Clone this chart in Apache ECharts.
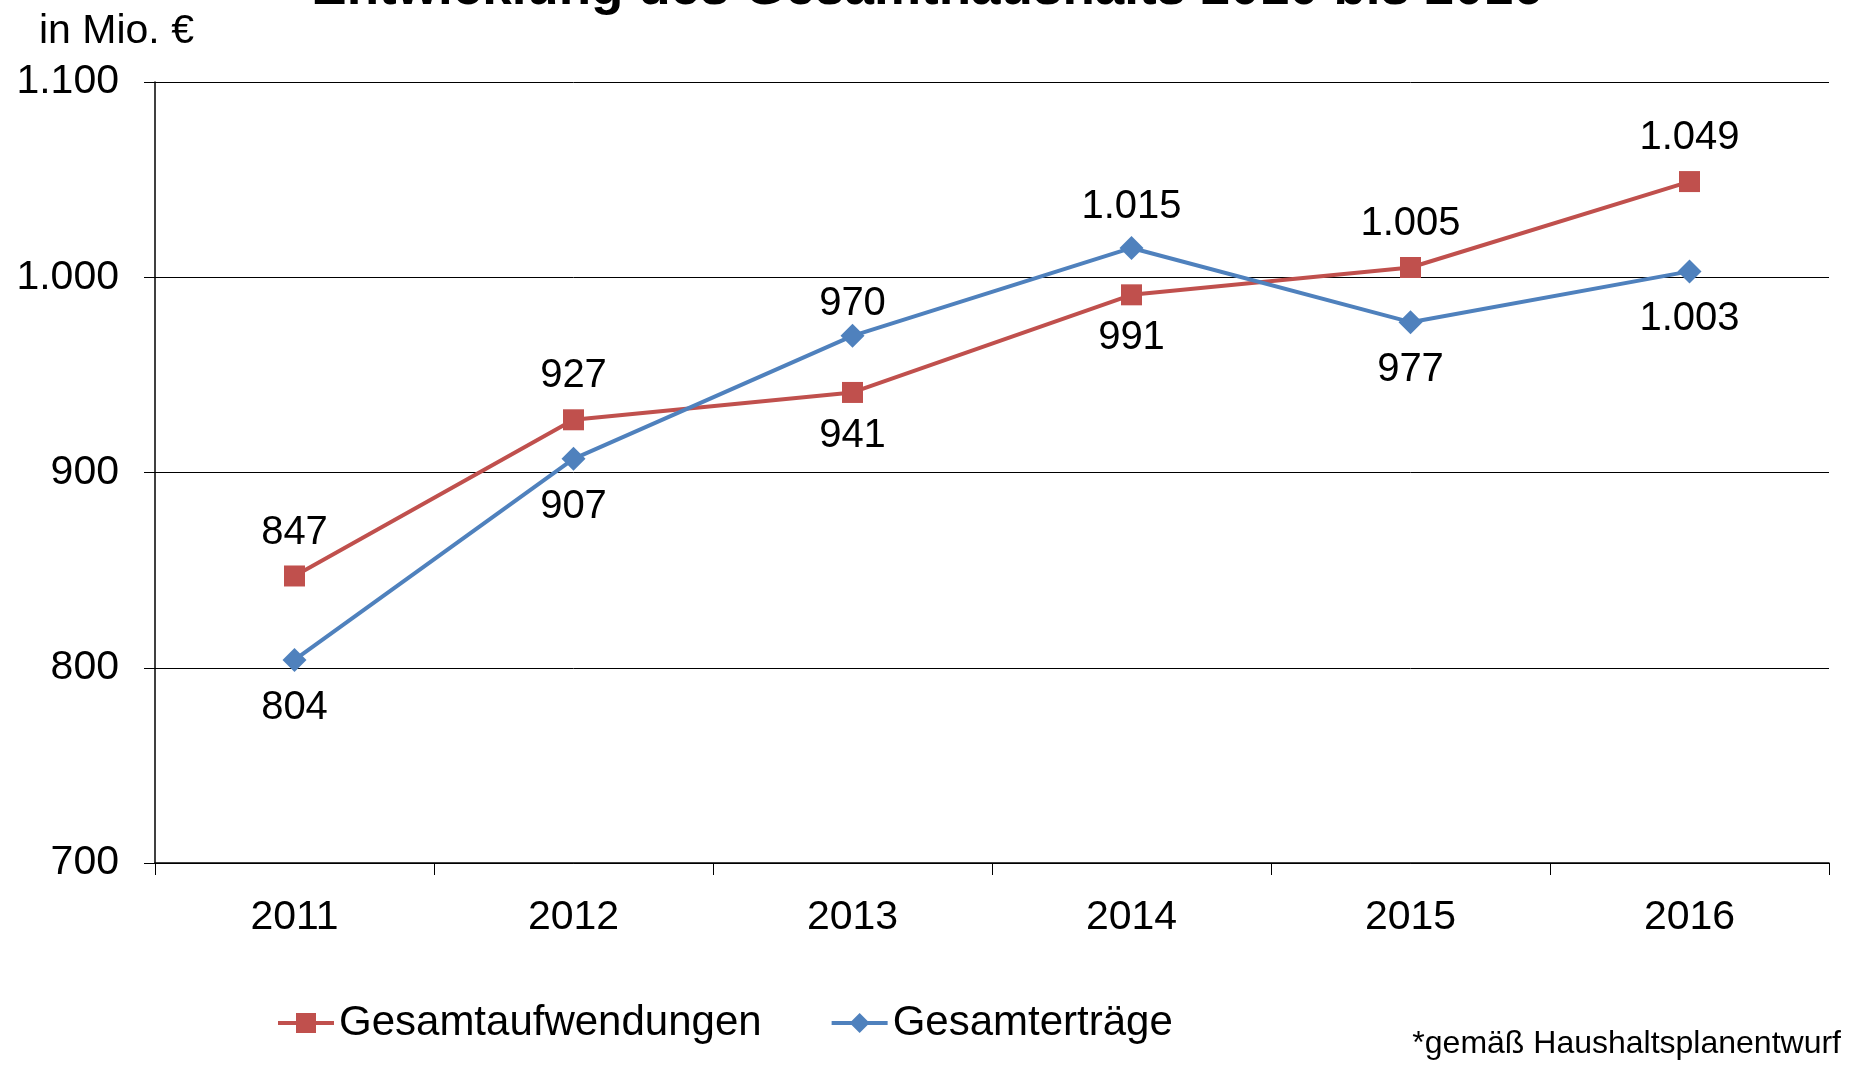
<!DOCTYPE html>
<html><head><meta charset="utf-8">
<script src="https://cdn.jsdelivr.net/npm/echarts@6/dist/echarts.min.js"></script>
<style>html,body{margin:0;padding:0;background:#fff}#c{width:1854px;height:1066px}</style>
</head><body><div id="c"></div>
<script>
const categories = ['2011','2012','2013','2014','2015','2016'];
const aufwendungen = [847, 927, 941, 991, 1005, 1049];
const ertraege = [804, 907, 970, 1015, 977, 1003];
const yTicks = [700, 800, 900, 1000, 1100];
const aufwPos = ['top','top','bottom','bottom','top','top'];
const ertrPos = ['bottom','bottom','top','top','bottom','bottom'];
const ertrOffset = [[0,0],[0,0],[0,16],[0,7],[0,0],[0,0]];

const FONT = '"Liberation Sans", Arial, sans-serif';
const fmt = v => String(v).replace(/\B(?=(\d{3})+(?!\d))/g, '.');

function build(vals, pos, off) {
  return vals.map((v, i) => ({ value: v, label: { position: pos[i], offset: off ? off[i] : [0,0] } }));
}

const chart = echarts.init(document.getElementById('c'));
chart.setOption({
  animation: false,
  backgroundColor: '#fff',
  textStyle: { fontFamily: FONT },
  title: {
    text: 'Entwicklung des Gesamthaushalts 2010 bis 2016',
    left: 'center', top: -42,
    textStyle: { fontFamily: FONT, fontSize: 53, fontWeight: 'bold', color: '#000' }
  },
  graphic: [
    { type: 'text', left: 39, top: 11, style: { text: 'in Mio. €', font: '41px ' + FONT, fill: '#000' } },
    { type: 'text', right: 13, top: 1028, style: { text: '*gemäß Haushaltsplanentwurf', font: '32px ' + FONT, fill: '#000' } }
  ],
  legend: {
    left: 271, top: 997,
    itemWidth: 56, itemHeight: 25, itemGap: 68,
    lineStyle: { width: 4 },
    textStyle: { fontFamily: FONT, fontSize: 42, color: '#000' },
    data: ['Gesamtaufwendungen', 'Gesamterträge']
  },
  grid: { left: 155, right: 25, top: 82, bottom: 203, containLabel: false },
  xAxis: {
    type: 'category', data: categories, boundaryGap: true,
    axisLine: { lineStyle: { color: '#000', width: 1.5 } },
    axisTick: { show: true, length: 12, alignWithLabel: false, lineStyle: { color: '#000' } },
    axisLabel: { fontFamily: FONT, fontSize: 41, color: '#000', margin: 34 }
  },
  yAxis: {
    type: 'value', min: 700, max: 1100, interval: 100,
    axisLine: { show: true, lineStyle: { color: '#000', width: 1.5 } },
    axisTick: { show: true, length: 11, lineStyle: { color: '#000' } },
    axisLabel: { fontFamily: FONT, fontSize: 41, color: '#000', margin: 36,
      formatter: v => yTicks.includes(v) ? fmt(v) : '' },
    splitLine: { show: true, lineStyle: { color: '#000', width: 1 } }
  },
  series: [
    {
      name: 'Gesamtaufwendungen', type: 'line',
      data: build(aufwendungen, aufwPos),
      symbol: 'rect', symbolSize: 21,
      itemStyle: { color: '#C0504D' },
      lineStyle: { color: '#C0504D', width: 4 },
      label: { show: true, fontFamily: FONT, fontSize: 40, color: '#000', distance: 13, formatter: p => fmt(p.value) }
    },
    {
      name: 'Gesamterträge', type: 'line',
      data: build(ertraege, ertrPos, ertrOffset),
      symbol: 'diamond', symbolSize: 24,
      itemStyle: { color: '#4F81BD' },
      lineStyle: { color: '#4F81BD', width: 4 },
      label: { show: true, fontFamily: FONT, fontSize: 40, color: '#000', distance: 16, formatter: p => fmt(p.value) }
    }
  ]
});
</script></body></html>
